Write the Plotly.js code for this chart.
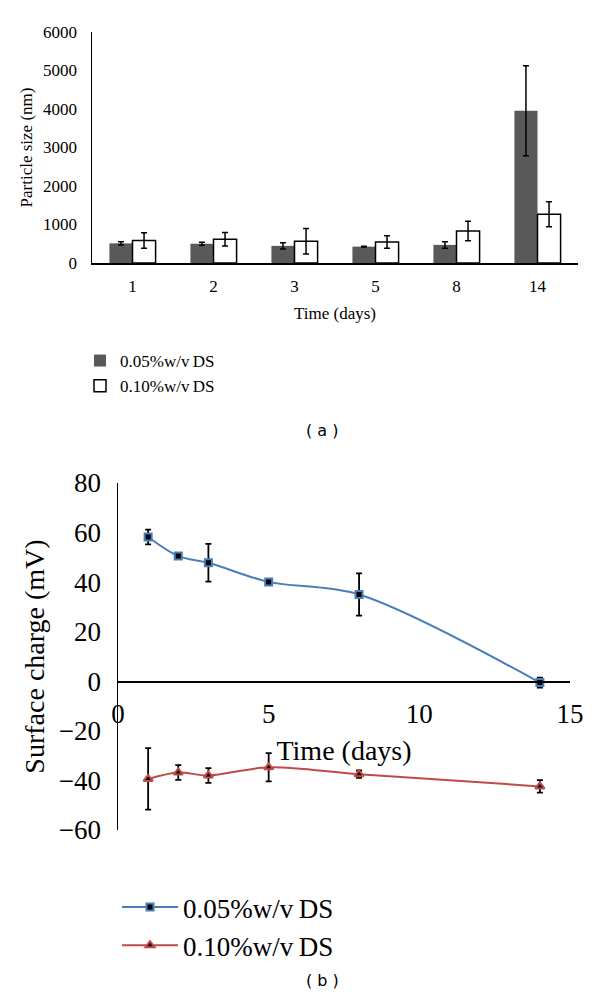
<!DOCTYPE html>
<html>
<head>
<meta charset="utf-8">
<script src="https://cdn.plot.ly/plotly-3.0.1.min.js"></script>
<style>html,body{margin:0;padding:0;background:#fff;}#chart{width:600px;height:1007px;}</style>
</head>
<body>
<div id="chart"></div>
<script>
// ---- Panel (a): particle size ----
const days = ["1", "2", "3", "5", "8", "14"];
const size005 = [510, 500, 445, 425, 470, 3955];
const size005Err = [40, 40, 80, 10, 85, 1170];
const size010 = [585, 615, 565, 545, 830, 1265];
const size010Err = [200, 175, 330, 160, 255, 325];
const seriesNames = ["0.05%w/v\u2009DS", "0.10%w/v\u2009DS"];

// ---- Panel (b): surface charge ----
const timeB = [1, 2, 3, 5, 8, 14];
const charge005 = [58.2, 50.5, 47.8, 40.1, 35, -0.5];
const charge005Err = [3, 0.8, 7.6, 0.8, 8.5, 2];
const charge010 = [-39.4, -36.8, -38, -34.7, -37.5, -42.4];
const charge010Err = [12.4, 3, 3, 5.7, 1.5, 2.5];

const W = 600, H = 1007;
const px = v => v / W;
const py = v => 1 - v / H;

const serif = "Liberation Serif, DejaVu Serif, serif";
const yRangeB = [-60, 80];
const yDomB = [py(830), py(483)];
const xPosB = yDomB[0] + (yDomB[1] - yDomB[0]) * (0 - yRangeB[0]) / (yRangeB[1] - yRangeB[0]);

const traces = [
  {
    type: "bar", x: days, y: size005, name: seriesNames[0],
    xaxis: "x", yaxis: "y", legend: "legend",
    marker: {color: "#595959", line: {color: "#595959", width: 0}},
    error_y: {type: "data", array: size005Err, visible: true, color: "#000", thickness: 1.5, width: 3}
  },
  {
    type: "bar", x: days, y: size010, name: seriesNames[1],
    xaxis: "x", yaxis: "y", legend: "legend",
    marker: {color: "#ffffff", line: {color: "#000", width: 1.5}},
    error_y: {type: "data", array: size010Err, visible: true, color: "#000", thickness: 1.5, width: 3}
  },
  {
    type: "scatter", mode: "lines+markers", x: timeB, y: charge005, name: seriesNames[0],
    xaxis: "x2", yaxis: "y2", legend: "legend2",
    line: {color: "#4A7EBB", width: 2, shape: "spline", smoothing: 0.9},
    marker: {symbol: "square", size: 7, color: "#000", line: {color: "#4A7EBB", width: 2}},
    error_y: {type: "data", array: charge005Err, visible: true, color: "#000", thickness: 1.8, width: 3}
  },
  {
    type: "scatter", mode: "lines+markers", x: timeB, y: charge010, name: seriesNames[1],
    xaxis: "x2", yaxis: "y2", legend: "legend2",
    line: {color: "#BE4B48", width: 2, shape: "spline", smoothing: 0.9},
    marker: {symbol: "triangle-up", size: 8, color: "#000", line: {color: "#BE4B48", width: 2}},
    error_y: {type: "data", array: charge010Err, visible: true, color: "#000", thickness: 1.8, width: 3}
  }
];

const layout = {
  width: W, height: H,
  margin: {l: 0, r: 0, t: 0, b: 0},
  paper_bgcolor: "#fff", plot_bgcolor: "rgba(0,0,0,0)",
  showlegend: true,
  barmode: "group", bargap: 0.43, bargroupgap: 0,
  font: {family: serif, color: "#000"},
  xaxis: {
    domain: [px(92), px(578)], anchor: "y", type: "category",
    showline: true, linecolor: "#000", linewidth: 1.5, ticks: "", showgrid: false, zeroline: false,
    tickfont: {family: serif, size: 17, color: "#000"}, ticklabelstandoff: 7,
    title: {text: "Time (days)", font: {family: serif, size: 17, color: "#000"}, standoff: 12},
    fixedrange: true
  },
  yaxis: {
    domain: [py(263), py(32)], anchor: "x", range: [0, 6000], dtick: 1000,
    showline: true, linecolor: "#000", linewidth: 1.5, ticks: "", showgrid: false, zeroline: false,
    tickfont: {family: serif, size: 17, color: "#000"}, ticklabelstandoff: 10,
    title: {text: "Particle size (nm)", font: {family: serif, size: 17, color: "#000"}, standoff: 6},
    fixedrange: true
  },
  xaxis2: {
    domain: [px(118), px(570)], anchor: "free", position: xPosB, range: [0, 15], dtick: 5,
    showline: true, linecolor: "#000", linewidth: 1.5, ticks: "", showgrid: false, zeroline: false,
    tickfont: {family: serif, size: 27, color: "#000"}, ticklabelstandoff: 8,
    title: {text: "Time (days)", font: {family: serif, size: 28, color: "#000"}, standoff: 12},
    fixedrange: true
  },
  yaxis2: {
    domain: yDomB, anchor: "x2", range: yRangeB, dtick: 20,
    showline: true, linecolor: "#000", linewidth: 1.5, ticks: "", showgrid: false, zeroline: false,
    tickfont: {family: serif, size: 27, color: "#000"}, ticklabelstandoff: 10,
    title: {text: "Surface charge (mV)", font: {family: serif, size: 28, color: "#000"}, standoff: 6},
    fixedrange: true
  },
  legend: {
    x: px(80), y: py(343), xanchor: "left", yanchor: "top",
    font: {family: serif, size: 17, color: "#000"}, bgcolor: "rgba(0,0,0,0)",
    traceorder: "normal", itemwidth: 30
  },
  legend2: {
    x: px(117), y: py(883), xanchor: "left", yanchor: "top",
    font: {family: serif, size: 27, color: "#000"}, bgcolor: "rgba(0,0,0,0)",
    traceorder: "normal", itemwidth: 56
  },
  annotations: [
    {xref: "paper", yref: "paper", x: px(322), y: py(430), text: "( a )", showarrow: false,
     font: {family: "DejaVu Sans, Liberation Sans, sans-serif", size: 16, color: "#000"}},
    {xref: "paper", yref: "paper", x: px(322), y: py(992), text: "( b )", showarrow: false,
     font: {family: "DejaVu Sans, Liberation Sans, sans-serif", size: 16, color: "#000"}}
  ]
};

Plotly.newPlot("chart", traces, layout, {displayModeBar: false, staticPlot: true});
</script>
</body>
</html>
